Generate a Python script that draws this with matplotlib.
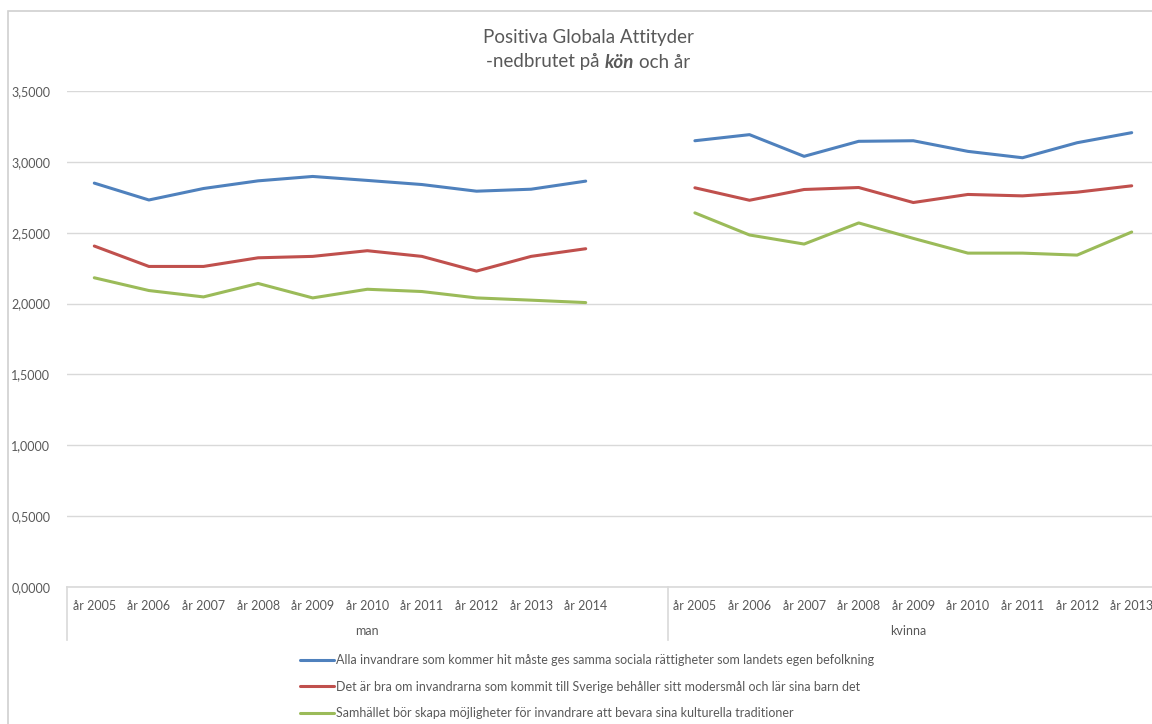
import numpy as np
import matplotlib
matplotlib.use("Agg")
from matplotlib import pyplot as plt
from matplotlib.patches import Rectangle
import matplotlib.transforms as mtransforms

plt.rcParams['font.family'] = ['Lato', 'DejaVu Sans']

# categories
man_years = ['år 2005', 'år 2006', 'år 2007', 'år 2008', 'år 2009', 'år 2010',
             'år 2011', 'år 2012', 'år 2013', 'år 2014']
kvinna_years = ['år 2005', 'år 2006', 'år 2007', 'år 2008', 'år 2009', 'år 2010',
                'år 2011', 'år 2012', 'år 2013']
groups = ['man', 'kvinna']

labels = ['Alla invandrare som kommer hit måste ges samma sociala rättigheter som landets egen befolkning',
          'Det är bra om invandrarna som kommit till Sverige behåller sitt modersmål och lär sina barn det',
          'Samhället bör skapa möjligheter för invandrare att bevara sina kulturella traditioner']

# values
man_alla = [2.850, 2.731, 2.812, 2.866, 2.897, 2.869, 2.840, 2.793, 2.807, 2.864]
man_modersmal = [2.406, 2.262, 2.262, 2.323, 2.333, 2.373, 2.333, 2.229, 2.333, 2.387]
man_traditioner = [2.182, 2.092, 2.047, 2.142, 2.040, 2.101, 2.085, 2.040, 2.024, 2.007]

kvinna_alla = [3.149, 3.192, 3.039, 3.145, 3.149, 3.074, 3.029, 3.135, 3.206]
kvinna_modersmal = [2.817, 2.729, 2.805, 2.819, 2.713, 2.770, 2.760, 2.786, 2.831]
kvinna_traditioner = [2.640, 2.484, 2.420, 2.569, 2.460, 2.356, 2.356, 2.342, 2.505]

colors = ['#4F81BD', '#C0504D', '#9BBB59']
txt = '#595959'
grid = '#D9D9D9'

W, H = 1152, 724
fig = plt.figure(figsize=(W / 100, H / 100), dpi=100)
fig.patches.append(Rectangle((8 / W, -0.1), 1.2, 1 - 11 / H + 0.1, transform=fig.transFigure,
                             fill=False, edgecolor='#D0D0D0', linewidth=1.2))

ax = fig.add_axes([67 / W, 1 - 587 / H, 20 * 54.6 / W, 496 / H])

# man group has one empty slot after its last year
n_man_slots = len(man_years) + 1
man_x = np.arange(len(man_years))
kvinna_x = n_man_slots + np.arange(len(kvinna_years))

man_series = [man_alla, man_modersmal, man_traditioner]
kvinna_series = [kvinna_alla, kvinna_modersmal, kvinna_traditioner]
for i in range(3):
    ax.plot(man_x, man_series[i], color=colors[i], lw=2.2, solid_capstyle='round',
            solid_joinstyle='round', label=labels[i])
    ax.plot(kvinna_x, kvinna_series[i], color=colors[i], lw=2.2, solid_capstyle='round',
            solid_joinstyle='round')

n_slots = n_man_slots + len(kvinna_years)
ax.set_xlim(-0.5, n_slots - 0.5)
ax.set_ylim(0, 3.5)
ax.set_yticks(np.arange(0, 3.51, 0.5))
ax.set_yticklabels(['{:.4f}'.format(v).replace('.', ',') for v in np.arange(0, 3.51, 0.5)])
ax.yaxis.grid(True, color=grid, lw=1)
ax.set_axisbelow(True)

ax.set_xticks(list(man_x) + list(kvinna_x))
ax.set_xticklabels(man_years + kvinna_years)
ax.tick_params(axis='both', length=0, labelsize=9, labelcolor=txt)
ax.tick_params(axis='y', pad=12)
ax.tick_params(axis='x', pad=9)

for s in ['top', 'right', 'left']:
    ax.spines[s].set_visible(False)
ax.spines['bottom'].set_color(grid)
ax.spines['bottom'].set_linewidth(1.2)

# group separators and group labels
trans = mtransforms.blended_transform_factory(ax.transData, ax.transAxes)
for xb in [-0.5, n_man_slots - 0.5, n_slots - 0.5]:
    ax.plot([xb, xb], [0, -53 / 496], color=grid, lw=1.2, transform=trans, clip_on=False)
ax.text((n_man_slots - 1) / 2, -44 / 496, groups[0], transform=trans, ha='center', va='center',
        fontsize=9, color=txt)
ax.text(n_man_slots - 0.5 + len(kvinna_years) / 2 - 0.1, -44 / 496, groups[1], transform=trans,
        ha='center', va='center', fontsize=9, color=txt)

# title
cx = 588 / W
fig.text(cx, 1 - 37 / H, 'Positiva Globala Attityder', ha='center', va='center',
         fontsize=13.5, color=txt)
r = fig.canvas.get_renderer()
parts = [('-nedbrutet på', 'normal', 'normal'), ('kön', 'bold', 'italic'), ('och år', 'normal', 'normal')]
tmp = fig.text(0, 0, 'a a', fontsize=13.5)
w1 = tmp.get_window_extent(r).width
tmp.set_text('aa')
space = w1 - tmp.get_window_extent(r).width
tmp.remove()
objs = []
total = 0
for s, wt, st in parts:
    t = fig.text(0, 1 - 62 / H, s, fontsize=13.5, color=txt, fontweight=wt, fontstyle=st,
                 va='center', ha='left')
    w = t.get_window_extent(r).width
    objs.append((t, w))
    total += w
total += space * (len(parts) - 1)
x0 = cx * W - total / 2
for t, w in objs:
    t.set_x(x0 / W)
    x0 += w + space

fig.legend(loc='upper left', bbox_to_anchor=(300 / W, 1 - 654 / H), frameon=False,
           fontsize=9, labelcolor=txt, handlelength=2.7, handletextpad=0.15,
           labelspacing=1.17, borderpad=0, borderaxespad=0)

plt.savefig('out.png', dpi=100)
